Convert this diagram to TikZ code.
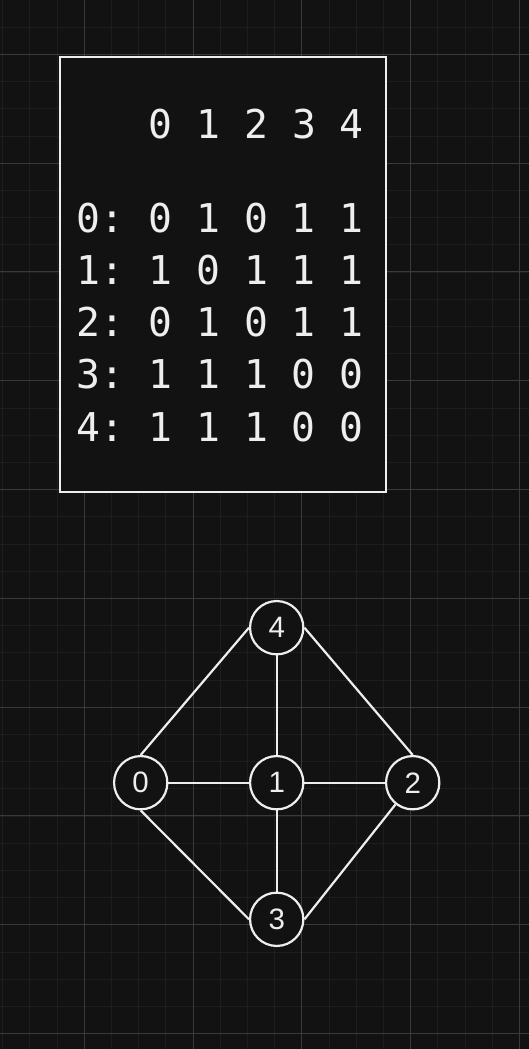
\documentclass[tikz,border=0pt]{standalone}
\usepackage{fontspec}
\setmonofont{DejaVu Sans Mono}
\newfontfamily\vertfont{Liberation Sans}
\usetikzlibrary{positioning}

\definecolor{canvas}{HTML}{121212}
\definecolor{gridfaint}{HTML}{1D1D1D}
\definecolor{gridbold}{HTML}{3A3A3A}
\definecolor{ink}{HTML}{EEEEEE}

\tikzset{
	gridfine/.style={draw=gridfaint,line width=1pt},
	gridcoarse/.style={draw=gridbold,line width=1pt},
	adjbox/.style={rectangle,draw=ink,fill=canvas,line width=2pt,inner sep=0pt,
		minimum width=326.3pt,minimum height=434.7pt},
	adjrow/.style={anchor=base west,inner sep=0pt,text=ink,
		font=\ttfamily\fontsize{39.7}{40}\selectfont},
	vert/.style={circle,draw=ink,fill=canvas,line width=2.2pt,minimum size=53.3pt,
		inner sep=0pt,text=ink,font=\vertfont\fontsize{29.5}{30}\selectfont},
	link/.style={draw=ink,line width=2.2pt}
}

\begin{document}
\begin{tikzpicture}[x=1pt,y=-1pt,on grid]
	\useasboundingbox[fill=canvas] (0,0) rectangle (529,1049);
	% grid
	\foreach \k in {0,...,19}
		\draw[gridfine] ({2.7+27.2*\k},0) -- ++(0,1049);
	\foreach \k in {0,...,38}
		\draw[gridfine] (0,{27.2*\k}) -- ++(529,0);
	\foreach \k in {0,...,4}
		\draw[gridcoarse] ({84.3+108.8*\k},0) -- ++(0,1049);
	\foreach \k in {0,...,9}
		\draw[gridcoarse] (0,{54.3+108.8*\k}) -- ++(529,0);

	% adjacency matrix
	\node[adjbox] (adj) at (222.85,274.65) {};
	\node[adjrow] (head) at (76.7,138) {\phantom{0:} 0 1 2 3 4};
	\foreach \lbl/\bits in {0/0 1 0 1 1,1/1 0 1 1 1,2/0 1 0 1 1,3/1 1 1 0 0,4/1 1 1 0 0}
		\node[adjrow] (row-\lbl) at (76.7,{232+52.25*\lbl}) {\lbl: \bits};

	% graph
	\node[vert] (v1) at (276.7,782.7) {1};
	\node[vert,left=136pt of v1] (v0) {0};
	\node[vert,right=136pt of v1] (v2) {2};
	\node[vert,above=155pt of v1] (v4) {4};
	\node[vert,below=136.6pt of v1] (v3) {3};
	\path[link]
	(v0) edge (v1)
	(v1) edge (v2)
	(v4) edge (v1)
	(v1) edge (v3)
	(v0.north) edge (v4.west)
	(v4.east) edge (v2.north)
	(v0.south) edge (v3.west)
	(v3.east) edge (v2);
\end{tikzpicture}
\end{document}
